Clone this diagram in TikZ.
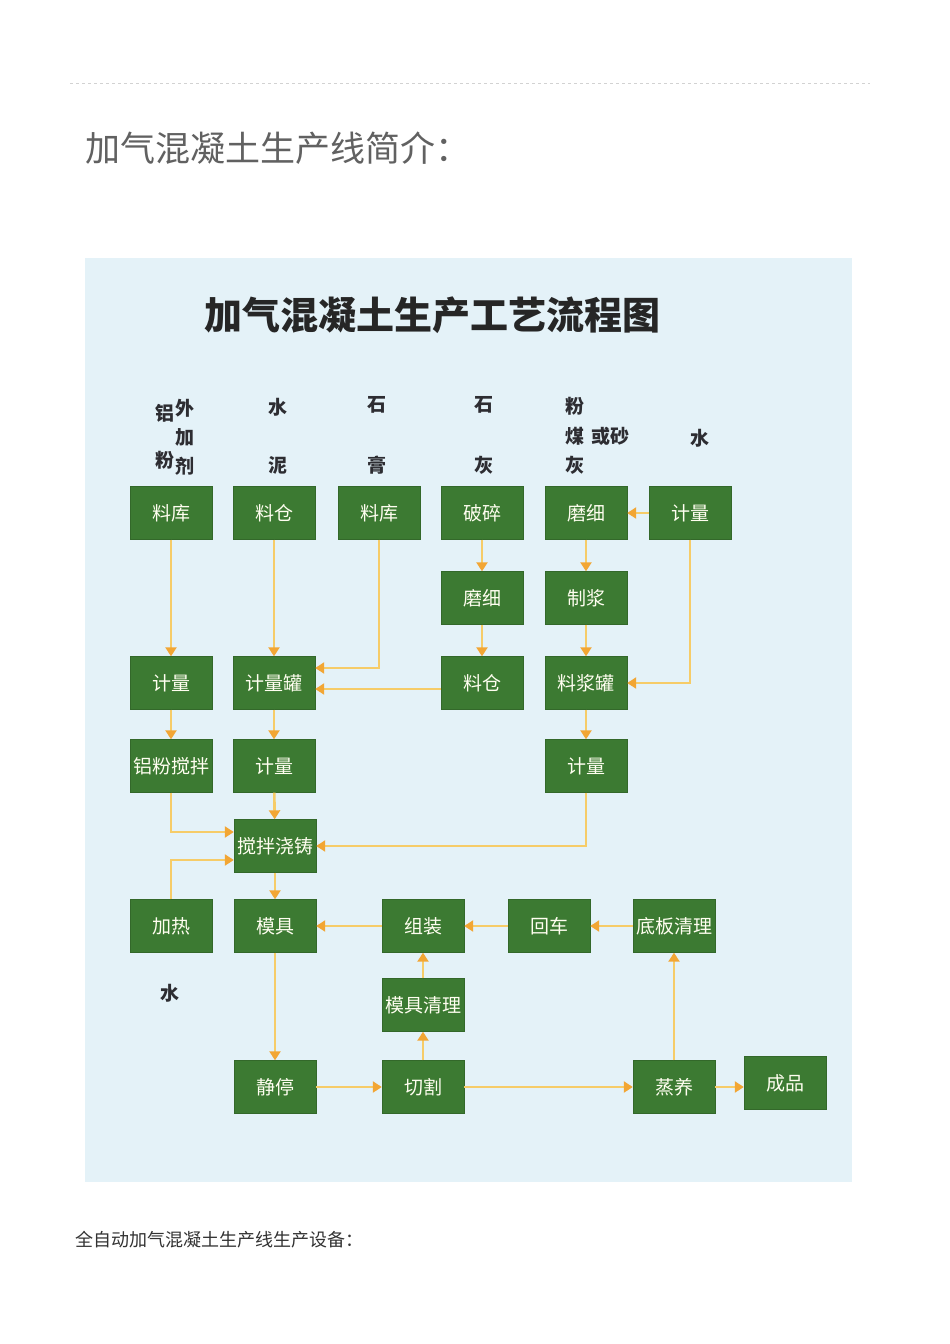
\documentclass[tikz,border=0pt]{standalone}
\usepackage{fontspec}
\newfontfamily\cjk{Noto Sans CJK SC}
\usetikzlibrary{arrows.meta, positioning, calc}
\definecolor{boxgreen}{RGB}{60,122,50}
\definecolor{panelblue}{RGB}{228,242,248}
\definecolor{flowline}{RGB}{246,204,104}
\definecolor{arrowtip}{RGB}{242,166,52}
\definecolor{rawtext}{RGB}{45,45,50}
\begin{document}
\begin{tikzpicture}[x=1pt, y=-1pt,
        box/.style={draw=boxgreen!85!black, fill=boxgreen, minimum width=82pt, minimum height=53pt, inner sep=0pt, text=white!94!yellow, font=\cjk\fontsize{19}{22}\selectfont},
        arrow/.style={-{Triangle[length=9pt, width=11pt, color=arrowtip]}, line width=2.6pt, flowline},
        raw/.style={text=rawtext, inner sep=0pt, font=\cjk\bfseries\fontsize{19}{21}\selectfont}
    ]
        % page and panel
        \fill[white] (0,0) rectangle (950,1344);
        \useasboundingbox (0,0) rectangle (950,1344);
        \draw[gray!35, line width=1pt, dash pattern=on 3pt off 3pt] (70,83) -- (870,83);
        \node[anchor=west, inner sep=0pt, text=black!62, font=\cjk\fontsize{35}{38}\selectfont] (head) at (85,148) {加气混凝土生产线简介：};
        \fill[panelblue] (85,258) rectangle (852,1182);
        \node[inner sep=0pt, text=black!85, font=\cjk\bfseries\fontsize{38}{40}\selectfont] (title) at (432,315) {加气混凝土生产工艺流程图};
        \node[anchor=west, inner sep=0pt, text=black!80, font=\cjk\fontsize{18}{20}\selectfont] (foot) at (75,1240) {全自动加气混凝土生产线生产设备：};

        % raw materials
        \foreach \t/\x/\y [count=\i] in {铝/165/413, 粉/165/460, 外/185/408, 加/185/437, 剂/185/466,
                水/278/407, 泥/278/465, 石/377/405, 膏/377/465, 石/484/405, 灰/484/465,
                粉/575/406, 煤/575/436, 灰/575/465, 或砂/610/436, 水/700/438, 水/170/993}
            \node[raw] (lab\i) at (\x,\y) {\t};

        % first row
        \node[box] (lk1) at (171,513) {料库};
        \node[box] (lc1) at (274,513) {料仓};
        \node[box] (lk2) at (379,513) {料库};
        \node[box] (ps) at (482,513) {破碎};
        \node[box] (mx1) at (586,513) {磨细};
        \node[box] (jl1) at (690,513) {计量};
        % second and third rows
        \node[box] (mx2) at (482,598) {磨细};
        \node[box] (zj) at (586,598) {制浆};
        \node[box] (jl2) at (171,683) {计量};
        \node[box] (jlg) at (274,683) {计量罐};
        \node[box] (lc2) at (482,683) {料仓};
        \node[box] (ljg) at (586,683) {料浆罐};
        % dosing and casting
        \node[box] (lfjb) at (171,766) {铝粉搅拌};
        \node[box] (jl3) at (274,766) {计量};
        \node[box] (jl4) at (586,766) {计量};
        \node[box] (jbjz) at (275,846) {搅拌浇铸};
        % mould loop
        \node[box] (jr) at (171,926) {加热};
        \node[box] (mj) at (275,926) {模具};
        \node[box] (zz) at (423,926) {组装};
        \node[box] (hc) at (549,926) {回车};
        \node[box] (dbql) at (674,926) {底板清理};
        \node[box] (mjql) at (423,1005) {模具清理};
        \node[box] (jt) at (275,1087) {静停};
        \node[box] (qg) at (423,1087) {切割};
        \node[box] (zy) at (674,1087) {蒸养};
        \node[box] (cp) at (785,1083) {成品};

        % straight arrows
        \foreach \a/\b in {lk1/jl2, lc1/jlg, ps/mx2, mx2/lc2, jl1/mx1, mx1/zj, zj/ljg,
                jl2/lfjb, jlg/jl3, ljg/jl4, jl3/jbjz, jbjz/mj, mj/jt, zz/mj, hc/zz,
                dbql/hc, mjql/zz, qg/mjql, jt/qg, qg/zy, zy/dbql}
            \draw[arrow] (\a) -- (\b);
        \draw[arrow] (zy) -- (zy -| cp.west);
        \draw[arrow] ($(lc2.west)+(0,6)$) -- ($(jlg.east)+(0,6)$);

        % elbow arrows
        \draw[arrow] (lk2.south) |- ($(jlg.east)+(0,-15)$);
        \draw[arrow] (jl1.south) |- (ljg.east);
        \draw[arrow] (lfjb.south) |- ($(jbjz.west)+(0,-14)$);
        \draw[arrow] (jr.north) |- ($(jbjz.west)+(0,14)$);
        \draw[arrow] (jl4.south) |- (jbjz.east);
    \end{tikzpicture}
\end{document}
